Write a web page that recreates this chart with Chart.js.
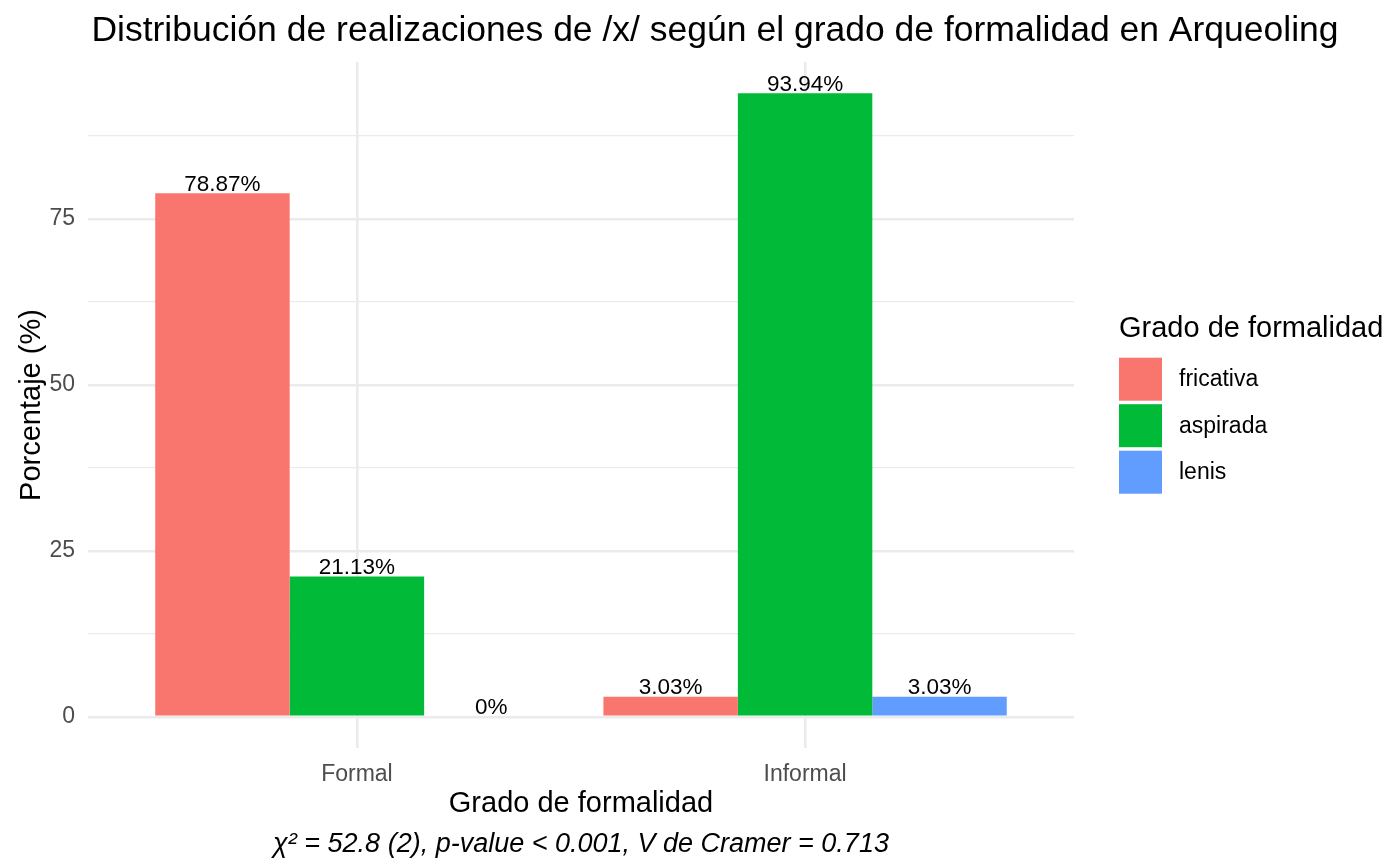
<!DOCTYPE html>
<html>
<head>
<meta charset="utf-8">
<title>Distribución de realizaciones de /x/</title>
<script src="https://cdn.jsdelivr.net/npm/chart.js@4.4.1/dist/chart.umd.min.js"></script>
<style>
  html, body { margin: 0; padding: 0; background: #fff; }
  #wrap { width: 1392px; height: 864px; }
</style>
</head>
<body>
<div id="wrap"><canvas id="chart" width="1392" height="864"></canvas></div>
<script>
'use strict';

const CATEGORIES   = ['Formal', 'Informal'];
const SERIES_NAMES = ['fricativa', 'aspirada', 'lenis'];
const FRICATIVA    = [78.87, 3.03];
const ASPIRADA     = [21.13, 93.94];
const LENIS        = [0, 3.03];
const Y_MAJOR      = [0, 25, 50, 75];
const Y_MINOR      = [12.5, 37.5, 62.5, 87.5];

const TITLE        = 'Distribución de realizaciones de /x/ según el grado de formalidad en Arqueoling';
const X_TITLE      = 'Grado de formalidad';
const Y_TITLE      = 'Porcentaje (%)';
const LEGEND_TITLE = 'Grado de formalidad';
const CAPTION      = 'χ² = 52.8 (2), p-value < 0.001, V de Cramer = 0.713';

const COLORS = ['#F8766D', '#00BA38', '#619CFF'];
const FONT   = '"Liberation Sans", Arial, Helvetica, sans-serif';
const GRID   = '#EBEBEB';

// ggplot-like 5% expansion of the value range
const dataMax = Math.max(...FRICATIVA, ...ASPIRADA, ...LENIS);
const Y_MIN = -dataMax * 0.05;
const Y_MAX = dataMax * 1.05;

function toPoints(values) {
  return values.map((v, i) => ({ x: i + 1, y: v }));
}

const barLabels = {
  id: 'barLabels',
  afterDatasetsDraw(chart) {
    const { ctx } = chart;
    ctx.save();
    ctx.font = `22.5px ${FONT}`;
    ctx.fillStyle = '#000';
    ctx.textAlign = 'center';
    ctx.textBaseline = 'alphabetic';
    chart.data.datasets.forEach((ds, di) => {
      const meta = chart.getDatasetMeta(di);
      meta.data.forEach((bar, i) => {
        ctx.fillText(`${ds.data[i].y}%`, bar.x, bar.y - 2.5);
      });
    });
    ctx.restore();
  },
};

const decorations = {
  id: 'decorations',
  afterDraw(chart) {
    const { ctx, chartArea } = chart;
    ctx.save();

    // title
    ctx.fillStyle = '#000';
    ctx.font = `35.5px ${FONT}`;
    ctx.textAlign = 'center';
    ctx.textBaseline = 'alphabetic';
    ctx.fillText(TITLE, 715, 41);

    // caption, centred on the panel
    ctx.font = `italic 27px ${FONT}`;
    ctx.fillText(CAPTION, (chartArea.left + chartArea.right) / 2, 852);

    // legend
    const lx = 1119;
    ctx.textAlign = 'left';
    ctx.font = `29px ${FONT}`;
    ctx.fillText(LEGEND_TITLE, lx, 337);

    ctx.font = `23px ${FONT}`;
    ctx.textBaseline = 'middle';
    chart.data.datasets.forEach((ds, i) => {
      const top = 357.7 + i * 46.5;
      ctx.fillStyle = ds.backgroundColor;
      ctx.fillRect(lx, top, 43, 43);
      ctx.fillStyle = '#000';
      ctx.fillText(ds.label, 1179, top + 22);
    });

    ctx.restore();
  },
};

new Chart(document.getElementById('chart'), {
  type: 'bar',
  data: {
    datasets: [
      { label: SERIES_NAMES[0], data: toPoints(FRICATIVA), backgroundColor: COLORS[0] },
      { label: SERIES_NAMES[1], data: toPoints(ASPIRADA),  backgroundColor: COLORS[1] },
      { label: SERIES_NAMES[2], data: toPoints(LENIS),     backgroundColor: COLORS[2] },
    ],
  },
  options: {
    responsive: false,
    devicePixelRatio: 1,
    animation: false,
    categoryPercentage: 0.9,
    barPercentage: 1.0,
    borderWidth: 0,
    layout: { padding: { top: 62, right: 318, left: 0, bottom: 0 } },
    plugins: {
      legend: { display: false },
      title: { display: false },
      tooltip: { enabled: false },
    },
    scales: {
      x: {
        type: 'linear',
        min: 0.4,
        max: CATEGORIES.length + 0.6,
        offset: false,
        afterBuildTicks: scale => {
          scale.ticks = CATEGORIES.map((c, i) => ({ value: i + 1 }));
        },
        afterFit: scale => { scale.height = 116; },
        ticks: {
          autoSkip: false,
          padding: 12.5,
          color: '#4D4D4D',
          font: { family: FONT, size: 23 },
          callback: (v, i) => CATEGORIES[i],
        },
        grid: { offset: false, color: GRID, lineWidth: 2.6, drawTicks: false },
        border: { display: false },
        title: {
          display: true,
          text: X_TITLE,
          color: '#000',
          font: { family: FONT, size: 29 },
          padding: { top: 0, bottom: 42.6 },
        },
      },
      y: {
        min: Y_MIN,
        max: Y_MAX,
        afterBuildTicks: scale => {
          scale.ticks = [...Y_MAJOR, ...Y_MINOR].sort((a, b) => a - b).map(v => ({ value: v }));
        },
        afterFit: scale => { scale.width = 88; },
        ticks: {
          autoSkip: false,
          padding: 13,
          color: '#4D4D4D',
          font: { family: FONT, size: 23 },
          callback: v => (Y_MAJOR.includes(v) ? String(v) : ''),
        },
        grid: {
          color: GRID,
          lineWidth: c => (Y_MAJOR.includes(c.tick && c.tick.value) ? 2.6 : 1.3),
          drawTicks: false,
        },
        border: { display: false },
        title: {
          display: true,
          text: Y_TITLE,
          color: '#000',
          font: { family: FONT, size: 29 },
          padding: { top: 14.6, bottom: 0 },
        },
      },
    },
  },
  plugins: [barLabels, decorations],
});
</script>
</body>
</html>
